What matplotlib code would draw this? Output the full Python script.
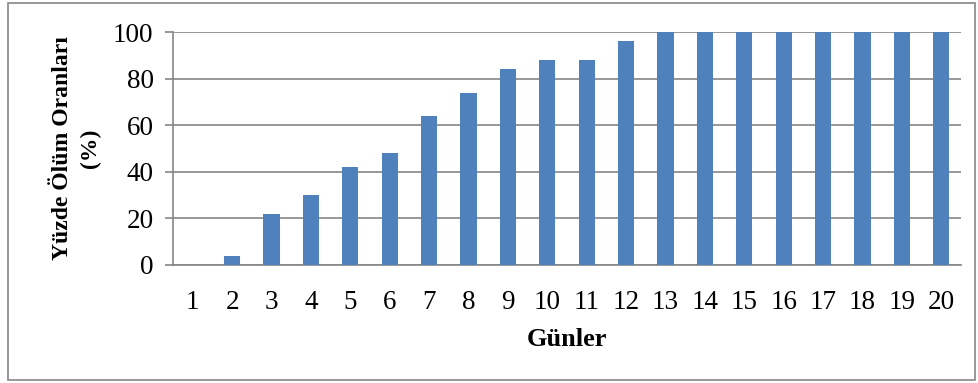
import matplotlib
matplotlib.use("Agg")
import matplotlib.pyplot as plt
from matplotlib.patches import Rectangle

days = [str(i) for i in range(1, 21)]
mortality = [0, 4, 22, 30, 42, 48, 64, 74, 84, 88, 88, 96, 100, 100, 100, 100, 100, 100, 100, 100]
yticks = [0, 20, 40, 60, 80, 100]

plt.rcParams['font.family'] = ['Liberation Serif', 'DejaVu Serif']

fig = plt.figure(figsize=(9.79, 3.83), dpi=100)
ax = fig.add_axes([173/979, 1-265/383, (961-173)/979, (265-32)/383])

x = list(range(len(days)))
ax.bar(x, mortality, width=0.41, color='#4F81BD', zorder=3)
ax.set_xlim(-0.5, len(days)-0.5)
ax.set_ylim(0, 100)
ax.set_yticks(yticks)
ax.set_xticks(x)
ax.set_xticklabels(days)
ax.yaxis.grid(True, color='#868686', linewidth=1.2, zorder=0)
for s in ['top', 'right']:
    ax.spines[s].set_visible(False)
ax.spines['left'].set_color('#868686')
ax.spines['bottom'].set_color('#868686')
ax.spines['left'].set_linewidth(1.2)
ax.spines['bottom'].set_linewidth(1.2)
ax.tick_params(axis='y', length=6, color='#868686', width=1.2, labelsize=19.5, pad=8)
ax.tick_params(axis='x', length=0, labelsize=19.5, pad=18)
ax.set_xlabel('Günler', fontsize=19, fontweight='bold', labelpad=9)
ax.set_ylabel('Yüzde Ölüm Oranları\n(%)', fontsize=17, fontweight='bold', labelpad=9, linespacing=1.4)

fig.patches.append(Rectangle((8/979, 1-380/383), 967/979, 377/383, transform=fig.transFigure,
                             fill=False, edgecolor='#868686', linewidth=1.2))

fig.savefig('out.png', dpi=100)
